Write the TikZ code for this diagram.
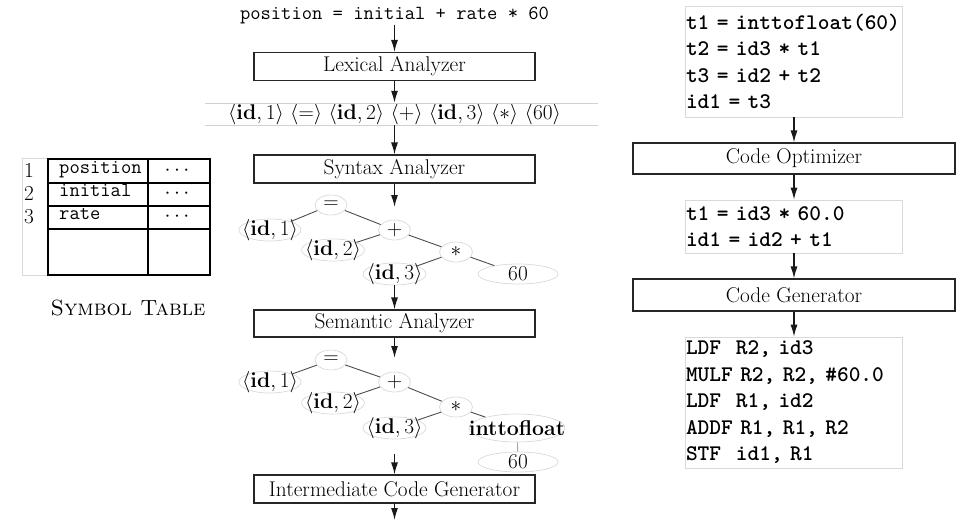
\RequirePackage{fix-cm}
\documentclass[tikz,border=0pt]{standalone}
\usetikzlibrary{shapes.geometric,arrows.meta}
\begin{document}
\begin{tikzpicture}[x=1pt,y=-1pt,
  rmtext/.style={font=\fontsize{21.3}{25}\selectfont},
  proc/.style={draw=black!85, line width=1.1pt, minimum width=281pt, minimum height=28pt, inner sep=0pt, font=\fontsize{21.3}{25}\selectfont},
  rproc/.style={proc, minimum width=322pt, minimum height=31pt},
  arr/.style={draw=black!90, line width=1.3pt, -{Latex[length=12pt,width=7pt]}},
  treenode/.style={ellipse, draw=black!15, line width=0.7pt, inner sep=0pt, minimum height=20pt},
  tl/.style={font=\fontsize{21.3}{25}\selectfont, inner sep=0pt, text=black},
  tedge/.style={draw=black!70, line width=0.9pt},
  codebox/.style={draw=black!15, line width=0.7pt, align=left, inner xsep=0.5pt, inner ysep=0pt, text width=216pt, font=\ttfamily\bfseries\fontsize{22.3}{26.5}\selectfont},
  ttx/.style={font=\ttfamily\fontsize{20}{24}\selectfont, inner sep=1pt},
  faint/.style={draw=black!18, line width=0.8pt}
]
\useasboundingbox (0,0) rectangle (961,520);

% ---------- left column ----------
\node[ttx] (src) at (394.5,15) {position = initial + rate * 60};
\node[proc] (lex) at (394.5,66.5) {Lexical Analyzer};
\node[rmtext, minimum height=22pt, inner sep=0pt] (tok) at (394.5,114)
  {$\langle\mathbf{id},1\rangle\ \langle=\rangle\ \langle\mathbf{id},2\rangle\ \langle+\rangle\ \langle\mathbf{id},3\rangle\ \langle*\rangle\ \langle60\rangle$};
\draw[faint] (205,103) -- (598,103);
\draw[faint] (205,125) -- (598,125);
\node[proc] (syn) at (394.5,169) {Syntax Analyzer};
\coordinate (t1in) at (394.5,207);

% tree 1
\node[treenode, minimum width=32pt, label={[tl]center:$=$}] (eq1) at (331,205) {};
\node[treenode, minimum width=62pt, minimum height=22pt, label={[tl]center:$\langle\mathbf{id},1\rangle$}] (ida1) at (270,230) {};
\node[treenode, minimum width=32pt, label={[tl]center:$+$}] (plus1) at (394.5,230) {};
\node[treenode, minimum width=63pt, minimum height=22pt, label={[tl]center:$\langle\mathbf{id},2\rangle$}] (idb1) at (333,250) {};
\node[treenode, minimum width=33pt, label={[tl]center:$*$}] (star1) at (456,252) {};
\node[treenode, minimum width=63pt, minimum height=22pt, label={[tl]center:$\langle\mathbf{id},3\rangle$}] (idc1) at (394.5,274) {};
\node[treenode, minimum width=80pt, label={[tl]center:60}] (sixty1) at (518,274) {};
\draw[tedge] (eq1) -- (ida1);
\draw[tedge] (eq1) -- (plus1);
\draw[tedge] (plus1) -- (idb1);
\draw[tedge] (plus1) -- (star1);
\draw[tedge] (star1) -- (idc1);
\draw[tedge] (star1) -- (sixty1);

\node[proc, minimum height=27pt] (sem) at (394.5,323.5) {Semantic Analyzer};
\coordinate (t2in) at (394.5,358);

% tree 2
\node[treenode, minimum width=32pt, label={[tl]center:$=$}] (eq2) at (331,360) {};
\node[treenode, minimum width=62pt, minimum height=22pt, label={[tl]center:$\langle\mathbf{id},1\rangle$}] (ida2) at (270,382) {};
\node[treenode, minimum width=32pt, label={[tl]center:$+$}] (plus2) at (394.5,382) {};
\node[treenode, minimum width=63pt, minimum height=22pt, label={[tl]center:$\langle\mathbf{id},2\rangle$}] (idb2) at (333,403) {};
\node[treenode, minimum width=33pt, label={[tl]center:$*$}] (star2) at (456,407) {};
\node[treenode, minimum width=63pt, minimum height=22pt, label={[tl]center:$\langle\mathbf{id},3\rangle$}] (idc2) at (394.5,428) {};
\node[treenode, minimum width=96pt, minimum height=28pt, label={[tl]center:\textbf{inttofloat}}] (itf2) at (517,428) {};
\node[treenode, minimum width=80pt, label={[tl]center:60}] (sixty2) at (518,462) {};
\draw[tedge] (eq2) -- (ida2);
\draw[tedge] (eq2) -- (plus2);
\draw[tedge] (plus2) -- (idb2);
\draw[tedge] (plus2) -- (star2);
\draw[tedge] (star2) -- (idc2);
\draw[tedge] (star2) -- (itf2);
\draw[tedge, draw=black!35] (itf2) -- (sixty2);

\coordinate (t2out) at (394.5,454);
\node[proc] (icg) at (394.5,489) {Intermediate Code Generator};
\coordinate (out) at (394.5,520);

\draw[arr] (src) -- (lex);
\draw[arr] (lex) -- (tok);
\draw[arr] (tok) -- (syn);
\draw[arr] (syn) -- (t1in);
\draw[arr] (idc1) -- (sem);
\draw[arr] (sem) -- (t2in);
\draw[arr] (t2out) -- (icg);
\draw[arr] (icg) -- (out);

% ---------- symbol table ----------
\draw[black!15, line width=0.7pt] (22,158) rectangle (48,275);
\draw[line width=1.2pt] (48,159) rectangle (210,275);
\draw[line width=1.2pt] (148,159) -- (148,275);
\draw[line width=1.2pt] (48,183) -- (210,183);
\draw[line width=1.8pt] (48,206) rectangle (210,229);
\node[rmtext, inner sep=0pt] (n1) at (29,170) {1};
\node[rmtext, inner sep=0pt] (n2) at (29,193) {2};
\node[rmtext, inner sep=0pt] (n3) at (29,217) {3};
\node[ttx, anchor=mid west, inner sep=0pt] (s1) at (59,171) {position};
\node[ttx, anchor=mid west, inner sep=0pt] (s2) at (59,194) {initial};
\node[ttx, anchor=mid west, inner sep=0pt] (s3) at (59,217) {rate};
\node[rmtext, inner sep=0pt] (d1) at (177,171) {$\cdots$};
\node[rmtext, inner sep=0pt] (d2) at (177,194) {$\cdots$};
\node[rmtext, inner sep=0pt] (d3) at (177,217) {$\cdots$};
\node[font=\fontsize{22}{26}\selectfont, inner sep=0pt] (stlab) at (128,308) {\textsc{Symbol Table}};

% ---------- right column ----------
\node[codebox, minimum height=111pt] (c1) at (794,61.5) {t1 = inttofloat(60)\\t2 = id3 * t1\\t3 = id2 + t2\\id1 = t3};
\node[rproc] (opt) at (794,158.5) {Code Optimizer};
\node[codebox, minimum height=53pt] (c2) at (794,226.5) {t1 = id3 * 60.0\\id1 = id2 + t1};
\node[rproc, minimum height=32pt] (gen) at (794,295) {Code Generator};
\node[codebox, minimum height=131pt] (c3) at (794,402.5) {LDF~~R2, id3\\MULF R2, R2, \#60.0\\LDF~~R1, id2\\ADDF R1, R1, R2\\STF~~id1, R1};

\draw[arr] (c1) -- (opt);
\draw[arr] (opt) -- (c2);
\draw[arr] (c2) -- (gen);
\draw[arr] (gen) -- (c3);
\end{tikzpicture}
\end{document}
